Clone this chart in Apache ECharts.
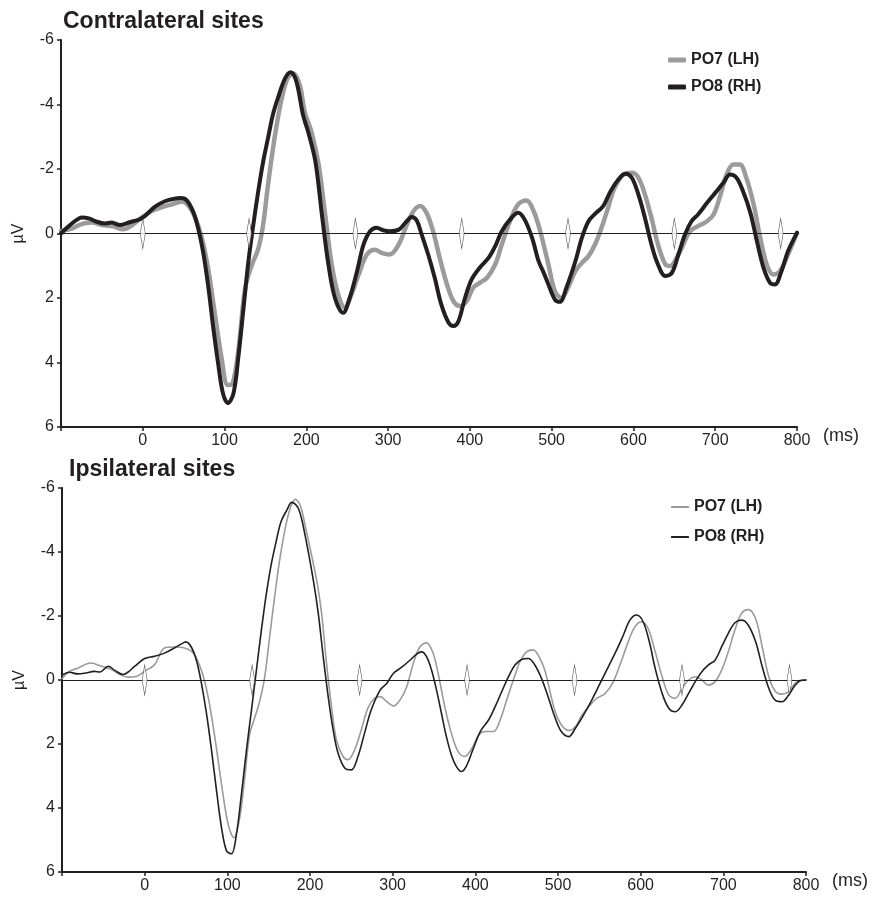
<!DOCTYPE html>
<html><head><meta charset="utf-8">
<script src="https://cdn.jsdelivr.net/npm/echarts@6.0.0/dist/echarts.min.js"></script>
<style>html,body{margin:0;padding:0;background:#fff}#c{width:869px;height:901px}</style>
</head><body><div id="c"></div>
<script>
// ---- data ----
const titles = ['Contralateral sites', 'Ipsilateral sites'];
const seriesNames = ['PO7 (LH)', 'PO8 (RH)'];
const stimulusTimes = [0, 130, 260, 390, 520, 650, 780];
const xMin = -100, xMax = 800, xStep = 100;
const yMin = -6, yMax = 6, yStep = 2;

const contraPO7_t = [-100,-87,-74,-62,-50,-36,-24,-13,-1,11,23,35,48,56,64,72,80,88,96,104,110,117,125,133,141,147,153,161,169,177,184,192,198,206,215,223,231,239,247,255,264,274,284,292,302,313,323,331,339,347,355,363,372,380,388,396,404,412,421,431,439,449,459,469,478,486,496,504,512,520,529,537,545,553,561,569,577,588,598,606,614,622,630,639,645,653,661,669,679,690,698,706,714,722,730,738,747,755,763,771,779,789,800];
const contraPO7_v = [-0.08,-0.15,-0.3,-0.34,-0.26,-0.22,-0.13,-0.26,-0.5,-0.7,-0.81,-0.9,-0.99,-0.86,-0.5,0.12,1.1,2.46,3.8,4.7,4.64,3.6,1.73,1.0,0.49,-0.24,-1.48,-2.94,-4.08,-4.81,-4.96,-4.6,-3.77,-3.17,-2.14,-0.59,0.96,1.9,2.3,1.9,1.27,0.65,0.5,0.6,0.65,0.34,-0.28,-0.69,-0.85,-0.64,-0.07,0.75,1.58,2.1,2.25,2.1,1.68,1.53,1.37,0.96,0.34,-0.38,-0.9,-1.02,-0.69,-0.07,0.96,1.79,2.0,1.68,1.17,0.91,0.7,0.34,-0.18,-0.8,-1.42,-1.83,-1.88,-1.73,-1.21,-0.49,0.34,0.96,1.01,0.75,0.34,-0.07,-0.23,-0.38,-0.59,-1.16,-1.83,-2.14,-2.14,-1.73,-0.9,0.13,0.96,1.27,1.17,0.65,-0.02];

const contraPO8_t = [-100,-89,-74,-66,-58,-46,-38,-28,-17,-3,3,15,27,37,47,54,62,68,74,80,86,92,98,104,111,117,123,129,135,141,147,153,159,165,174,181,188,196,202,211,219,227,235,245,253,262,270,278,286,294,302,313,321,329,335,341,349,357,365,374,380,386,394,402,412,423,431,439,449,459,467,476,484,490,496,504,510,518,529,537,545,553,563,571,580,590,598,606,614,622,630,639,647,655,663,671,679,690,700,710,718,726,734,743,751,759,767,773,781,789,800];
const contraPO8_v = [0.0,-0.26,-0.5,-0.47,-0.38,-0.31,-0.34,-0.26,-0.34,-0.45,-0.55,-0.83,-1.0,-1.07,-1.1,-1.02,-0.65,-0.13,0.6,1.63,2.88,4.0,4.95,5.26,4.95,3.8,2.36,0.9,-0.24,-1.28,-2.2,-2.94,-3.67,-4.18,-4.81,-5.0,-4.7,-3.67,-3.17,-2.24,-0.59,0.96,2.0,2.46,2.0,1.17,0.34,-0.07,-0.18,-0.1,-0.07,-0.12,-0.33,-0.51,-0.4,0.03,0.65,1.37,2.2,2.77,2.87,2.72,2.0,1.43,1.06,0.75,0.39,-0.07,-0.43,-0.64,-0.43,0.13,0.86,1.2,1.58,2.05,2.12,1.68,0.86,0.13,-0.38,-0.61,-0.85,-1.26,-1.62,-1.85,-1.73,-1.21,-0.49,0.34,0.96,1.32,1.22,0.65,0.03,-0.38,-0.59,-0.95,-1.26,-1.57,-1.83,-1.73,-1.31,-0.64,0.24,1.06,1.53,1.58,1.17,0.55,-0.02];

const ipsiPO7_t = [-100,-91,-81,-65,-52,-42,-30,-20,-10,0,12,24,36,48,59,69,77,85,93,101,108,115,121,127,133,139,145,151,157,163,170,176,182,188,194,208,214,220,226,232,240,246,254,262,270,278,285,293,301,309,317,325,333,341,349,355,363,371,379,387,396,404,412,422,430,438,446,454,462,470,478,484,488,496,504,513,521,529,539,547,557,567,577,585,593,601,609,617,626,634,642,650,658,666,674,682,690,698,706,714,722,730,739,747,755,763,771,779,787,795,800];
const ipsiPO7_v = [-0.04,-0.27,-0.37,-0.53,-0.43,-0.35,-0.17,-0.09,-0.11,-0.27,-0.48,-1.0,-1.03,-1.0,-0.84,-0.27,0.56,1.81,3.26,4.51,4.93,4.3,3.06,1.7,1.19,0.67,-0.06,-1.31,-2.56,-3.7,-4.74,-5.36,-5.65,-5.47,-4.84,-3.12,-2.08,-0.52,0.83,1.87,2.39,2.49,2.18,1.56,0.88,0.57,0.52,0.68,0.81,0.62,0.21,-0.52,-1.04,-1.16,-0.83,-0.21,0.83,1.66,2.23,2.39,2.13,1.72,1.61,1.61,1.25,0.62,0.0,-0.57,-0.88,-0.94,-0.68,-0.31,0.1,0.94,1.4,1.58,1.46,1.09,0.78,0.57,0.42,0.05,-0.62,-1.2,-1.66,-1.82,-1.61,-0.94,-0.1,0.47,0.57,0.26,0.0,-0.1,0.0,0.16,0.05,-0.31,-0.88,-1.56,-2.08,-2.2,-1.92,-1.04,-0.1,0.36,0.44,0.36,0.1,0.0,0.0];

const ipsiPO8_t = [-100,-91,-81,-71,-61,-54,-44,-36,-26,-20,-12,0,12,24,36,44,50,57,63,69,75,81,87,93,99,105,111,117,123,129,135,141,147,153,159,165,172,178,186,194,204,210,216,222,228,234,242,250,258,266,274,285,293,301,311,321,329,335,341,347,353,359,365,371,377,383,389,397,406,416,424,432,440,448,456,464,472,480,488,496,504,513,521,531,541,551,561,571,579,587,595,603,611,617,626,634,642,650,658,666,674,682,690,698,706,714,722,730,739,747,755,763,771,779,787,793,800];
const ipsiPO8_v = [-0.15,-0.24,-0.19,-0.22,-0.27,-0.25,-0.43,-0.3,-0.17,-0.25,-0.43,-0.67,-0.74,-0.84,-1.0,-1.12,-1.19,-1.0,-0.58,0.15,1.08,2.22,3.47,4.62,5.34,5.43,4.82,3.58,2.22,0.98,-0.27,-1.52,-2.66,-3.6,-4.32,-4.95,-5.31,-5.55,-5.36,-4.53,-3.12,-2.08,-0.73,0.52,1.56,2.29,2.75,2.81,2.39,1.66,0.94,0.31,0.1,-0.21,-0.4,-0.62,-0.81,-0.88,-0.73,-0.31,0.31,1.04,1.77,2.34,2.7,2.86,2.7,2.18,1.61,1.25,0.83,0.36,-0.1,-0.47,-0.64,-0.67,-0.47,-0.05,0.52,1.14,1.61,1.77,1.51,1.09,0.62,0.1,-0.42,-0.94,-1.4,-1.87,-2.03,-1.82,-1.14,-0.42,0.42,0.88,0.99,0.78,0.42,0.05,-0.26,-0.47,-0.62,-1.04,-1.46,-1.79,-1.87,-1.72,-1.2,-0.42,0.26,0.64,0.68,0.47,0.16,0.02,0.0];

// ---- build ----
const zip = (t, v) => t.map((x, i) => [x, v[i]]);
const FONT = '"Liberation Sans", Arial, Helvetica, sans-serif';
const INK = '#231f20';
const GRAY = '#9b9b9b';

const grids = [
  {left: 61, top: 40, width: 736, height: 387},
  {left: 62, top: 488, width: 744, height: 384}
];
const suffix = [' contra', ' ipsi'];

function xAxisCfg(i) {
  return {
    type: 'value', gridIndex: i, min: xMin, max: xMax, interval: xStep,
    axisLine: {show: true, onZero: false, lineStyle: {color: INK, width: 2}},
    axisTick: {show: true, length: 4, lineStyle: {color: INK, width: 1.5}},
    axisLabel: {color: INK, fontFamily: FONT, fontSize: 16, margin: 6,
      formatter: v => (v === xMin ? '' : String(v))},
    splitLine: {show: false},
    name: '(ms)', nameLocation: 'end', nameGap: 26,
    nameTextStyle: {color: INK, fontFamily: FONT, fontSize: 18, align: 'left', verticalAlign: 'top', padding: [0, 0, 0, 0]}
  };
}
function yAxisCfg(i) {
  return {
    type: 'value', gridIndex: i, min: yMin, max: yMax, interval: yStep, inverse: true,
    axisLine: {show: true, onZero: false, lineStyle: {color: INK, width: 2}},
    axisTick: {show: true, length: 4, lineStyle: {color: INK, width: 1.5}},
    axisLabel: {color: INK, fontFamily: FONT, fontSize: 16, margin: 7},
    splitLine: {show: false},
    name: 'µV', nameLocation: 'middle', nameGap: 34, nameRotate: 90,
    nameTextStyle: {color: INK, fontFamily: FONT, fontSize: 16}
  };
}

const dataSets = [
  [[contraPO7_t, contraPO7_v], [contraPO8_t, contraPO8_v]],
  [[ipsiPO7_t, ipsiPO7_v], [ipsiPO8_t, ipsiPO8_v]]
];
const widths = [[4.5, 4], [1.6, 1.6]];
const colors = [GRAY, INK];

const series = [];
for (let g = 0; g < 2; g++) {
  // zero reference line
  series.push({
    type: 'line', xAxisIndex: g, yAxisIndex: g, data: [], silent: true, z: 1,
    markLine: {silent: true, symbol: ['none', 'none'], label: {show: false},
      lineStyle: {color: INK, width: 1, type: 'solid'}, data: [{yAxis: 0}], animation: false}
  });
  for (let s = 0; s < 2; s++) {
    series.push({
      name: seriesNames[s] + suffix[g], type: 'line', xAxisIndex: g, yAxisIndex: g,
      data: zip(dataSets[g][s][0], dataSets[g][s][1]),
      showSymbol: false, symbol: 'none', smooth: 0.35, z: 2 + s,
      lineStyle: {color: colors[s], width: widths[g][s], cap: 'round', join: 'round'},
      itemStyle: {color: colors[s]}
    });
  }
  series.push({
    type: 'scatter', xAxisIndex: g, yAxisIndex: g, z: 6, silent: true,
    data: stimulusTimes.map(t => [t, 0]),
    symbol: 'diamond', symbolSize: [5, 30],
    itemStyle: {color: '#ffffff', borderColor: INK, borderWidth: 1}
  });
}

const legendTops = [47, 494];
const legendLefts = [663, 666];
const legendGaps = [11, 14];
const legendIconH = [5, 2];

const option = {
  backgroundColor: '#ffffff',
  animation: false,
  title: titles.map((t, i) => ({
    text: t, left: i === 0 ? 58 : 64, top: i === 0 ? 5 : 453,
    textStyle: {color: INK, fontFamily: FONT, fontSize: 23, fontWeight: 'bold'}
  })),
  legend: [0, 1].map(g => ({
    orient: 'vertical', left: legendLefts[g], top: legendTops[g], itemGap: legendGaps[g],
    itemWidth: 18, itemHeight: legendIconH[g], icon: 'roundRect', selectedMode: false,
    data: seriesNames.map(n => n + suffix[g]),
    formatter: n => n.replace(suffix[g], ''),
    textStyle: {color: INK, fontFamily: FONT, fontSize: 16, fontWeight: 'bold'}
  })),
  grid: grids,
  xAxis: [xAxisCfg(0), xAxisCfg(1)],
  yAxis: [yAxisCfg(0), yAxisCfg(1)],
  series: series
};

const chart = echarts.init(document.getElementById('c'), null, {renderer: 'canvas'});
chart.setOption(option);
</script></body></html>
